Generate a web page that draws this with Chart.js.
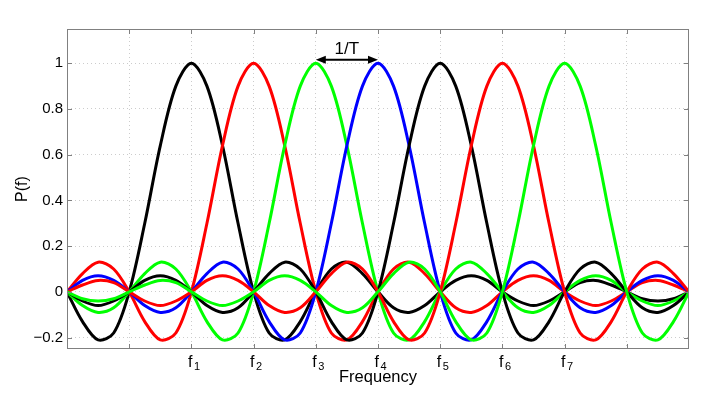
<!DOCTYPE html>
<html lang="en">
<head>
<meta charset="UTF-8">
<title>Subcarrier spectra</title>
<script src="https://cdn.jsdelivr.net/npm/chart.js"></script>
<style>
    body {
        margin: 0;
        background: #fff;
    }

    .chart-container {
        position: relative;
        width: 720px;
        height: 393px;
    }
</style>
</head>
<body>
<div class="chart-container">
    <canvas id="spectrum"></canvas>
</div>
<script>
    // sample points along the frequency axis (in units of 1/T)
    const freq = [0, 0.25, 0.5, 0.75, 1, 1.25, 1.5, 1.75, 2, 2.25, 2.5, 2.75, 3, 3.25, 3.5, 3.75,
        4, 4.25, 4.5, 4.75, 5, 5.25, 5.5, 5.75, 6, 6.25, 6.5, 6.75, 7, 7.25, 7.5, 7.75,
        8, 8.25, 8.5, 8.75, 9, 9.25, 9.5, 9.75, 10];

    // P(f) of each subcarrier
    const f1 = [0, -0.13, -0.21, -0.18, 0, 0.30, 0.64, 0.90, 1, 0.90, 0.64, 0.30, 0, -0.18, -0.21, -0.13,
        0, 0.10, 0.13, 0.08, 0, -0.07, -0.09, -0.06, 0, 0.05, 0.07, 0.05, 0, -0.04, -0.06, -0.04,
        0, 0.04, 0.05, 0.03, 0, -0.03, -0.04, -0.03, 0];
    const f2 = [0, 0.08, 0.13, 0.10, 0, -0.13, -0.21, -0.18, 0, 0.30, 0.64, 0.90, 1, 0.90, 0.64, 0.30,
        0, -0.18, -0.21, -0.13, 0, 0.10, 0.13, 0.08, 0, -0.07, -0.09, -0.06, 0, 0.05, 0.07, 0.05,
        0, -0.04, -0.06, -0.04, 0, 0.04, 0.05, 0.03, 0];
    const f3 = [0, -0.06, -0.09, -0.07, 0, 0.08, 0.13, 0.10, 0, -0.13, -0.21, -0.18, 0, 0.30, 0.64, 0.90,
        1, 0.90, 0.64, 0.30, 0, -0.18, -0.21, -0.13, 0, 0.10, 0.13, 0.08, 0, -0.07, -0.09, -0.06,
        0, 0.05, 0.07, 0.05, 0, -0.04, -0.06, -0.04, 0];
    const f4 = [0, 0.05, 0.07, 0.05, 0, -0.06, -0.09, -0.07, 0, 0.08, 0.13, 0.10, 0, -0.13, -0.21, -0.18,
        0, 0.30, 0.64, 0.90, 1, 0.90, 0.64, 0.30, 0, -0.18, -0.21, -0.13, 0, 0.10, 0.13, 0.08,
        0, -0.07, -0.09, -0.06, 0, 0.05, 0.07, 0.05, 0];
    const f5 = [0, -0.04, -0.06, -0.04, 0, 0.05, 0.07, 0.05, 0, -0.06, -0.09, -0.07, 0, 0.08, 0.13, 0.10,
        0, -0.13, -0.21, -0.18, 0, 0.30, 0.64, 0.90, 1, 0.90, 0.64, 0.30, 0, -0.18, -0.21, -0.13,
        0, 0.10, 0.13, 0.08, 0, -0.07, -0.09, -0.06, 0];
    const f6 = [0, 0.03, 0.05, 0.04, 0, -0.04, -0.06, -0.04, 0, 0.05, 0.07, 0.05, 0, -0.06, -0.09, -0.07,
        0, 0.08, 0.13, 0.10, 0, -0.13, -0.21, -0.18, 0, 0.30, 0.64, 0.90, 1, 0.90, 0.64, 0.30,
        0, -0.18, -0.21, -0.13, 0, 0.10, 0.13, 0.08, 0];
    const f7 = [0, -0.03, -0.04, -0.03, 0, 0.03, 0.05, 0.04, 0, -0.04, -0.06, -0.04, 0, 0.05, 0.07, 0.05,
        0, -0.06, -0.09, -0.07, 0, 0.08, 0.13, 0.10, 0, -0.13, -0.21, -0.18, 0, 0.30, 0.64, 0.90,
        1, 0.90, 0.64, 0.30, 0, -0.18, -0.21, -0.13, 0];

    const series = [f1, f2, f3, f4, f5, f6, f7];
    const seriesNames = ['f1', 'f2', 'f3', 'f4', 'f5', 'f6', 'f7'];
    const colors = ['#000000', '#ff0000', '#00ff00', '#0000ff', '#000000', '#ff0000', '#00ff00'];

    // axis ticks (x labels are "f" with a subscript index)
    const xTicks = [1, 2, 3, 4, 5, 6, 7, 8, 9];
    const xTickLabels = ['', 'f1', 'f2', 'f3', 'f4', 'f5', 'f6', 'f7', ''];
    const yTicks = [-0.2, 0, 0.2, 0.4, 0.6, 0.8, 1];
    const yTickLabels = ['−0.2', '0', '0.2', '0.4', '0.6', '0.8', '1'];

    // the "1/T" spacing marker between f3 and f4
    const spacing = { from: 4, to: 5, level: 1.015, label: '1/T' };

    const FONT = '"Liberation Sans", Arial, sans-serif';
    Chart.defaults.font.family = FONT;
    Chart.defaults.color = '#000';

    // MATLAB-style box, inward ticks, subscripted x labels and the spacing arrow
    const framePlugin = {
        id: 'frame',
        afterDraw(chart) {
            const { ctx, chartArea: a, scales: { x, y } } = chart;
            ctx.save();
            ctx.strokeStyle = '#808080';
            ctx.lineWidth = 1;
            ctx.beginPath();
            xTicks.forEach(v => {
                const px = Math.round(x.getPixelForValue(v)) + 0.5;
                ctx.moveTo(px, a.bottom); ctx.lineTo(px, a.bottom - 5);
                ctx.moveTo(px, a.top); ctx.lineTo(px, a.top + 5);
            });
            yTicks.forEach(v => {
                const py = Math.round(y.getPixelForValue(v)) + 0.5;
                ctx.moveTo(a.left, py); ctx.lineTo(a.left + 5, py);
                ctx.moveTo(a.right, py); ctx.lineTo(a.right - 5, py);
            });
            ctx.stroke();
            ctx.strokeRect(Math.round(a.left) + 0.5, Math.round(a.top) + 0.5,
                Math.round(a.width) - 1, Math.round(a.height) - 1);

            // x tick labels: f with subscript
            ctx.fillStyle = '#000';
            ctx.textAlign = 'left';
            ctx.textBaseline = 'alphabetic';
            xTicks.forEach((v, i) => {
                const lbl = xTickLabels[i];
                if (!lbl) return;
                const px = x.getPixelForValue(v);
                ctx.font = '16px ' + FONT;
                ctx.fillText(lbl.charAt(0), px - 3.5, a.bottom + 18);
                ctx.font = '11px ' + FONT;
                ctx.fillText(lbl.slice(1), px + 2.5, a.bottom + 21);
            });

            // double arrow
            const x1 = x.getPixelForValue(spacing.from);
            const x2 = x.getPixelForValue(spacing.to);
            const ya = y.getPixelForValue(spacing.level);
            ctx.strokeStyle = '#000';
            ctx.lineWidth = 2;
            ctx.beginPath();
            ctx.moveTo(x1 + 6, ya); ctx.lineTo(x2 - 6, ya);
            ctx.stroke();
            ctx.beginPath();
            ctx.moveTo(x1, ya); ctx.lineTo(x1 + 10, ya - 4); ctx.lineTo(x1 + 10, ya + 4);
            ctx.closePath();
            ctx.moveTo(x2, ya); ctx.lineTo(x2 - 10, ya - 4); ctx.lineTo(x2 - 10, ya + 4);
            ctx.closePath();
            ctx.fill();
            ctx.font = '17px ' + FONT;
            ctx.textAlign = 'center';
            ctx.fillText(spacing.label, (x1 + x2) / 2, ya - 6);
            ctx.restore();
        }
    };

    new Chart(document.getElementById('spectrum'), {
        type: 'line',
        data: {
            datasets: series.map((vals, i) => ({
                label: seriesNames[i],
                data: vals.map((v, k) => ({ x: freq[k], y: v })),
                borderColor: colors[i],
                borderWidth: 3,
                pointRadius: 0,
                fill: false,
                tension: 0.33,
                order: series.length - i
            }))
        },
        plugins: [framePlugin],
        options: {
            responsive: true,
            maintainAspectRatio: false,
            animation: false,
            layout: { padding: { top: 29, right: 31, left: 0, bottom: 0 } },
            plugins: {
                legend: { display: false },
                tooltip: { enabled: false }
            },
            scales: {
                x: {
                    type: 'linear',
                    min: 0,
                    max: 10,
                    afterBuildTicks: s => { s.ticks = xTicks.map(v => ({ value: v })); },
                    afterFit: s => { s.height = 44; },
                    ticks: { display: false },
                    grid: { color: '#cccccc', drawTicks: false },
                    border: { display: false, dash: [1, 3] },
                    title: {
                        display: true,
                        text: 'Frequency',
                        font: { size: 16.5 },
                        padding: { top: 0, bottom: 6 }
                    }
                },
                y: {
                    min: -0.25,
                    max: 1.15,
                    afterBuildTicks: s => { s.ticks = yTicks.map(v => ({ value: v })); },
                    afterFit: s => { s.width = 67; },
                    ticks: {
                        padding: 4,
                        font: { size: 15 },
                        callback: (v, i) => yTickLabels[i]
                    },
                    grid: { color: '#cccccc', drawTicks: false },
                    border: { display: false, dash: [1, 3] },
                    title: {
                        display: true,
                        text: 'P(f)',
                        font: { size: 16 },
                        padding: { top: 13, bottom: 0 }
                    }
                }
            }
        }
    });
</script>
</body>
</html>
